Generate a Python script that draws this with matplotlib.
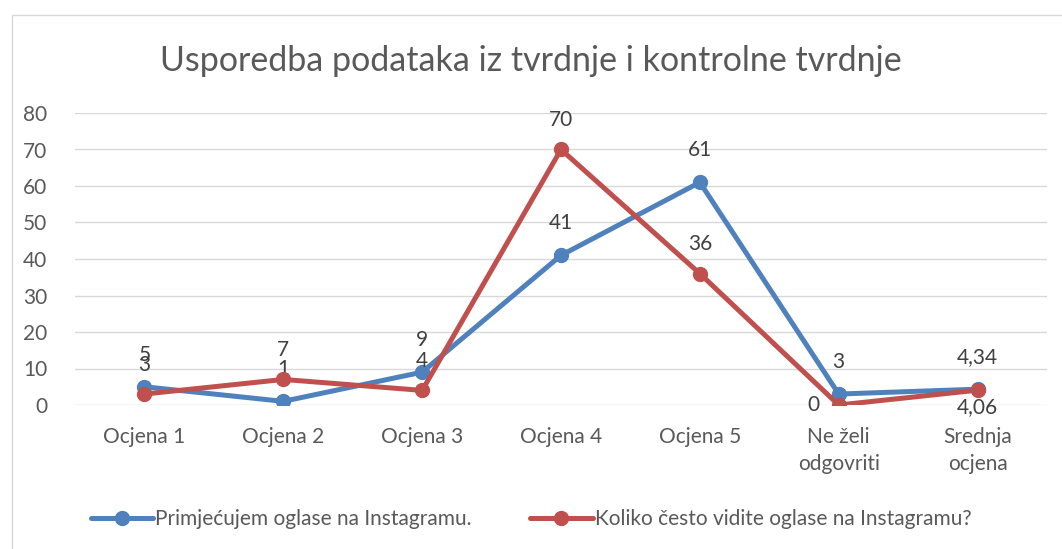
import matplotlib
matplotlib.use("Agg")
import matplotlib.pyplot as plt
from matplotlib.patches import Rectangle

plt.rcParams['font.family'] = ['Lato', 'DejaVu Sans']

categories = ["Ocjena 1", "Ocjena 2", "Ocjena 3", "Ocjena 4", "Ocjena 5",
              "Ne želi\nodgovriti", "Srednja\nocjena"]
primjecujem = [5, 1, 9, 41, 61, 3, 4.34]
koliko_cesto = [3, 7, 4, 70, 36, 0, 4.06]
series_names = ["Primjećujem oglase na Instagramu.",
                "Koliko često vidite oglase na Instagramu?"]
yticks = [0, 10, 20, 30, 40, 50, 60, 70, 80]

blue = "#4F81BD"
red = "#C0504D"
txt = "#595959"

fig = plt.figure(figsize=(10.62, 5.49), dpi=100)
fig.patches.append(Rectangle((12 / 1062, -0.1), 1.2, 1 - 15 / 549 + 0.1,
                             transform=fig.transFigure, fill=False,
                             edgecolor="#D9D9D9", linewidth=1))
ax = fig.add_axes([75 / 1062, 1 - 405 / 549, 972 / 1062, 292 / 549])

x = list(range(len(categories)))
ax.plot(x, primjecujem, color=blue, lw=3.6, marker="o", ms=10,
        label=series_names[0], solid_capstyle="round", zorder=3)
ax.plot(x, koliko_cesto, color=red, lw=3.6, marker="o", ms=10,
        label=series_names[1], solid_capstyle="round", zorder=4)


def fmt(v):
    return str(v).replace(".", ",") if v != int(v) else str(int(v))


for i, v in enumerate(primjecujem):
    ax.annotate(fmt(v), (i, v), xytext=(0, 23), textcoords="offset points",
                ha="center", va="center", fontsize=15, color="#404040")
for i, v in enumerate(koliko_cesto):
    off = (0, 21)
    if i == 5:
        off = (-18, 0)
    elif i == 6:
        off = (0, -12)
    ax.annotate(fmt(v), (i, v), xytext=off, textcoords="offset points",
                ha="center", va="center", fontsize=15, color="#404040")

ax.set_xlim(-0.5, len(categories) - 0.5)
ax.set_ylim(0, 80)
ax.set_yticks(yticks)
ax.set_xticks(x)
ax.set_xticklabels(categories, linespacing=1.45)
ax.grid(axis="y", color="#D9D9D9", lw=1)
ax.set_axisbelow(True)
for s in ax.spines.values():
    s.set_visible(False)
ax.tick_params(axis="both", length=0, labelsize=15, labelcolor=txt)
ax.tick_params(axis="y", pad=20)
ax.tick_params(axis="x", pad=16)

fig.text(0.5, 1 - 61 / 549, "Usporedba podataka iz tvrdnje i kontrolne tvrdnje",
         ha="center", va="center", fontsize=24.5, color=txt)
fig.legend(loc="center", bbox_to_anchor=(0.5, 1 - 519 / 549), ncol=2,
           frameon=False, fontsize=15, handlelength=3.0, handletextpad=0.1,
           columnspacing=2.8, labelcolor=txt)

fig.savefig("out.png", dpi=100)
